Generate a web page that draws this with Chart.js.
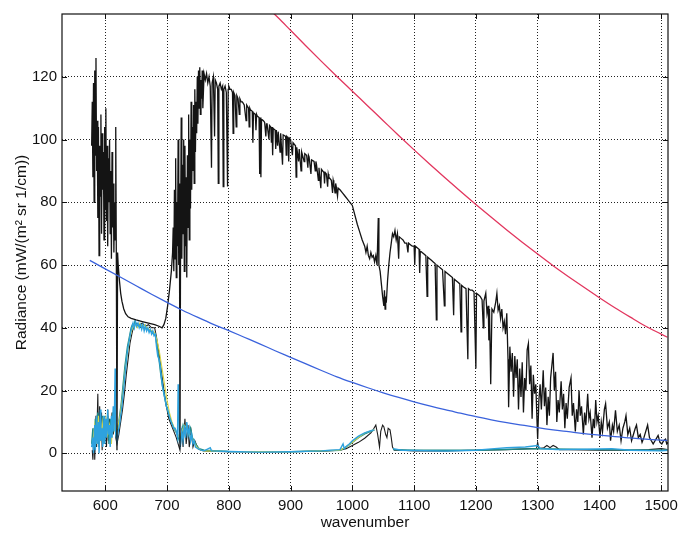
<!DOCTYPE html>
<html>
<head>
<meta charset="utf-8">
<script src="https://cdn.jsdelivr.net/npm/chart.js@4/dist/chart.umd.min.js"></script>
<style>
  html, body { margin: 0; padding: 0; background: #fff; }
  #wrap { width: 684px; height: 533px; }
</style>
</head>
<body>
<div id="wrap"><canvas id="spectrum" width="684" height="533"></canvas></div>
<script>
// axis ticks
const xTicks = [600, 700, 800, 900, 1000, 1100, 1200, 1300, 1400, 1500];
const yTicks = [0, 20, 40, 60, 80, 100, 120];

// clear sky spectrum (black, upper)
const clearWn = [
  578, 579, 580, 581, 582, 583, 584, 585, 586, 587,
  588, 589, 590, 591, 592, 593, 594, 595, 596, 597,
  598, 599, 600, 601, 602, 603, 604, 605, 606, 607,
  608, 609, 610, 611, 612, 613, 614, 615, 616, 617,
  618, 619, 620, 621, 623, 625, 627, 630, 633, 637,
  642, 650, 660, 670, 680, 687, 692, 695, 698, 701,
  704, 707, 709, 710, 711, 712, 713, 714, 715, 716,
  717, 718, 719, 720, 721, 722, 723, 724, 725, 726,
  727, 728, 729, 730, 731, 732, 733, 734, 735, 736,
  737, 738, 739, 740, 741, 742, 743, 744, 745, 746,
  747, 748, 749, 750, 751, 752, 753, 754, 755, 756,
  757, 758, 760, 762, 764, 766, 768, 770, 772, 773,
  775, 777, 778, 780, 782, 783, 784, 786, 788, 790,
  791, 792, 794, 796, 798, 799, 800, 802, 804, 806,
  807, 808, 810, 812, 813, 815, 817, 818, 820, 822,
  825, 828, 829, 832, 833, 834, 835, 838, 839, 840,
  843, 844, 845, 846, 849, 850, 851, 852, 853, 856,
  858, 860, 861, 862, 865, 866, 868, 869, 870, 871,
  872, 875, 876, 877, 879, 880, 883, 884, 887, 888,
  892, 893, 894, 896, 897, 898, 900, 903, 904, 908,
  909, 910, 913, 914, 917, 918, 922, 923, 926, 928,
  929, 930, 933, 934, 938, 940, 941, 942, 945, 946,
  949, 950, 954, 955, 956, 958, 960, 961, 962, 966,
  968, 969, 970, 972, 973, 974, 976, 977, 980, 984,
  988, 992, 996,
  1000, 1004, 1008, 1012, 1016, 1020, 1022, 1024, 1026, 1028,
  1030, 1032, 1034, 1036, 1038, 1040, 1042, 1043, 1045, 1047,
  1049, 1051, 1052, 1053, 1054, 1055, 1057, 1059, 1061, 1063,
  1065, 1067, 1069, 1071, 1073, 1075, 1076, 1079, 1082, 1085,
  1088, 1090, 1091, 1094, 1097, 1100, 1101, 1102, 1105, 1108,
  1109, 1110, 1113, 1116, 1119, 1121, 1122, 1125, 1128, 1131,
  1134, 1136, 1137, 1140, 1143, 1146, 1149, 1150, 1153, 1156,
  1159, 1162, 1164, 1165, 1168, 1171, 1174, 1176, 1177, 1180,
  1184, 1187, 1188, 1191, 1194, 1197, 1200, 1201, 1204, 1207,
  1210, 1212, 1213, 1216, 1218, 1220, 1221, 1222, 1224, 1226,
  1229, 1232, 1234, 1236, 1238, 1240, 1242, 1244, 1246, 1248,
  1250, 1252, 1253, 1255, 1257, 1259, 1261, 1263, 1265, 1267,
  1269, 1271, 1273, 1275, 1277, 1279, 1281, 1283, 1285, 1287,
  1289, 1291, 1293, 1295, 1297, 1299, 1300, 1302, 1304, 1306,
  1309, 1311, 1313, 1315, 1317, 1319, 1321, 1323, 1325, 1327,
  1329, 1331, 1333, 1335, 1338, 1340, 1342, 1344, 1346, 1348,
  1351, 1354, 1356, 1358, 1361, 1363, 1365, 1367, 1369, 1371,
  1374, 1376, 1378, 1381, 1383, 1385, 1388, 1390, 1392, 1394,
  1396, 1398, 1401, 1403, 1405, 1408, 1410, 1413, 1416, 1418,
  1421, 1423, 1426, 1429, 1432, 1435, 1438, 1441, 1443, 1446,
  1449, 1452, 1455, 1458, 1460, 1463, 1466, 1469, 1472, 1475,
  1478, 1481, 1484, 1487, 1490, 1493, 1495, 1498, 1501, 1504,
  1507, 1509, 1511
];
const clearRad = [
  98, 112, 88, 118, 80, 122, 95, 126, 90, 106,
  75, 104, 63, 98, 82, 108, 70, 102, 84, 96,
  68, 104, 78, 110, 74, 98, 66, 94, 80, 100,
  70, 90, 62, 96, 72, 86, 64, 80, 68, 104,
  60, 1, 64, 60, 55, 51, 48.5, 46, 44.5, 43.5,
  43, 42.5, 42, 41.5, 41, 40.5, 40, 41, 43, 47,
  52, 58, 64, 72, 58, 84, 62, 94, 56, 80,
  66, 100, 60, 86, 2, 72, 107, 62, 92, 70,
  100, 58, 98, 66, 88, 56, 95, 72, 108, 68,
  100, 78, 112, 84, 104, 90, 111, 86, 116, 96,
  112, 102, 120, 105, 122, 110, 123, 108, 119, 113,
  122, 110, 121, 119, 121, 118, 120, 117, 91, 118,
  120, 101, 119, 118, 116, 86, 117, 118, 116, 117,
  85, 116, 117, 115, 85, 116, 117, 116, 116, 115,
  102, 115, 114, 104, 114, 113, 108, 113, 112, 112,
  111, 106, 111, 110, 104, 110, 109.5, 109, 99, 108.5,
  108, 103, 108, 107.5, 107, 89, 107, 88, 106.5, 106,
  105.5, 101, 105, 105, 100, 104.5, 104, 99, 104, 95,
  103.5, 103, 97, 103, 98, 102.5, 96, 102, 92, 101.5,
  101, 95, 101, 100.5, 93, 100.5, 100, 95, 99, 98,
  88, 97.5, 93, 97, 90, 96, 93, 95.5, 95, 91,
  95, 94.5, 89, 93.5, 93, 90, 93, 92, 87, 91,
  84.5, 90.5, 89.5, 86, 89.5, 89, 85, 89, 88, 87,
  83, 87, 86, 83, 86, 85, 82, 84.5, 84, 83,
  82, 81, 80,
  79, 76, 73, 70.5, 68, 66, 64, 66, 63, 62,
  64, 62.5, 63, 61, 63, 60, 75, 60, 58, 54,
  50, 47, 52, 46, 50, 48, 55, 60, 64, 67,
  70, 69, 71, 68, 70, 62, 69, 68.5, 68, 67,
  67, 64, 67, 66.5, 66, 66, 60, 66, 65.5, 65,
  57.5, 64.5, 64, 63.5, 63, 50, 62.5, 62, 61.5, 61,
  60.5, 42.5, 60, 59.5, 59, 58.5, 47, 58, 57.5, 57,
  56.5, 56, 44, 55.5, 55, 54.5, 54, 38.7, 53.5, 53,
  52.5, 30, 52.5, 52, 52, 51.5, 27, 51, 50.5, 50,
  49, 40, 48.5, 51, 44.6, 47, 36, 46, 22, 46,
  45, 48, 51, 45.6, 47, 43, 46, 40, 42, 38,
  44.6, 30, 14.7, 34, 26, 32, 18, 31, 24, 30,
  14, 27, 18, 29, 13, 24, 20, 33, 35, 22,
  28, 11, 25, 19, 22, 10, 4.6, 17, 22, 14,
  26.5, 15, 21, 9, 18, 12, 24, 28, 32, 20,
  26, 10, 17, 13, 23, 14, 19, 8, 16, 11,
  21, 24, 12, 16, 7, 14, 10, 20, 12, 15,
  6, 13, 9, 19, 11, 13, 5, 11, 8, 17,
  10, 12, 5, 10, 7, 14, 15.8, 8, 10, 4,
  9, 7, 13.7, 7, 9, 4, 8, 10, 12, 6,
  8, 4, 6, 8, 9, 5, 6, 3.5, 5, 7,
  9, 5, 4, 3, 4, 5, 5.7, 3.5, 3, 4,
  4.5, 3, 3.5
];

// cloudy spectrum (black, lower)
const lowWn = [
  579, 580, 582, 583, 585, 586, 588, 589, 591, 592,
  594, 595, 597, 598, 600, 602, 604, 605, 607, 609,
  611, 613, 615, 617, 619, 622, 625, 628, 631, 634,
  637, 640, 643, 646, 650, 655, 660, 665, 670, 675,
  680, 683, 687, 691, 695, 699, 703, 707, 711, 715,
  718, 721, 724, 726, 729, 731, 734, 736, 739, 742,
  745, 750, 755, 760, 780, 800, 850, 900, 950, 980,
  990, 1000, 1010, 1020, 1030, 1035, 1038, 1041, 1044, 1046,
  1049, 1051, 1054, 1056, 1058, 1061, 1063, 1065, 1068, 1080,
  1100, 1150, 1200, 1250, 1290, 1298, 1300, 1302, 1310, 1315,
  1320, 1325, 1330, 1335, 1350, 1400, 1450, 1480, 1500, 1510
];
const lowRad = [
  1, -2, 8, -2, 12, 2, 19, 3, 15, 4,
  13, 1, 11, 5, 9, 2, 14, 4, 11, 3,
  13, 6, 14, 5, 3, 6, 10, 14, 19, 25,
  30, 35, 38, 40.5, 41.5, 41, 41.5, 40.5, 41, 40,
  40, 37, 32, 26, 20, 15, 11, 9, 7, 5,
  3, 1, 8, 2, 11, 3, 9, 2, 7, 2,
  4, 1.5, 1, 0.8, 0.6, 0.5, 0.5, 0.5, 0.7, 1,
  1.5, 2.5, 3.5, 4.8, 6.5, 8, 9, 6, 2, 7,
  9, 8.5, 6, 5, 8, 7.5, 5, 2, 1, 1,
  0.8, 0.8, 1, 1.2, 1.5, 1.5, 3.5, 1.5, 1.8, 2.5,
  1.8, 2.5, 2, 1.2, 1.2, 1, 1, 1.2, 1.5, 1.2
];

// cloudy retrievals (colour)
const cyanWn = [
  578, 580, 581, 583, 584, 586, 587, 589, 590, 592,
  593, 595, 596, 598, 599, 601, 602, 604, 605, 607,
  608, 610, 611, 613, 614, 615, 616, 617, 619, 621,
  623, 625, 627, 629, 631, 633, 635, 637, 639, 641,
  643, 645, 647, 649, 651, 653, 655, 657, 659, 661,
  663, 665, 667, 669, 671, 673, 675, 677, 679, 681,
  683, 685, 687, 689, 691, 693, 695, 697, 699, 701,
  703, 705, 707, 709, 711, 713, 715, 717, 718, 719,
  720, 722, 724, 726, 728, 730, 732, 734, 736, 738,
  740, 742, 744, 746, 750, 755, 760, 770, 772, 800,
  850, 900, 950, 980, 985, 987, 989, 995, 1000, 1010,
  1020, 1030, 1035, 1038, 1064, 1066, 1080, 1100, 1150, 1200,
  1230, 1250, 1280, 1300, 1305, 1330, 1380, 1420, 1450, 1500,
  1510
];
const cyanRad = [
  2, 5, 0, 9, 1, 12, 3, 10, 0, 14,
  4, 8, 2, 12, 3, 11, 5, 14, 6, 9,
  2, 12, 5, 15, 7, 14, 27, 6, 4, 7,
  9, 12, 15, 19, 23, 27, 31, 34, 36, 38.5,
  40, 41.5, 40, 42, 40.5, 41.5, 40, 41, 39.5, 41,
  39, 40.5, 39, 40, 38.5, 39.5, 38, 39, 37.5, 38,
  34, 31, 30, 28, 24, 21, 19, 17, 15, 14,
  12.5, 11, 10, 9, 8, 8, 7, 5, 22, 20,
  5, 3, 7, 4, 9, 5, 10, 6, 8, 4,
  6, 3, 4, 2, 1.5, 1, 0.8, 1.8, 0.8, 0.6,
  0.4, 0.5, 0.8, 1.2, 3, 1.5, 2, 3, 4, 5.5,
  6.5, 7.2, 7.5, null, null, 1.5, 1, 0.9, 0.7, 1,
  1.5, 1.8, 2, 2.5, 1.5, 1.2, 1.3, 1.5, 1, 0.8,
  1
];

const tealWn = [
  578, 580, 582, 584, 586, 588, 590, 592, 594, 596,
  598, 600, 602, 604, 606, 608, 610, 612, 614, 616,
  618, 620, 622, 624, 626, 628, 630, 632, 634, 636,
  638, 640, 642, 644, 646, 648, 650, 654, 658, 662,
  666, 670, 674, 678, 681, 684, 687, 690, 693, 696,
  699, 702, 705, 708, 711, 714, 717, 720, 723, 726,
  729, 732, 735, 738, 741, 744, 748, 752, 760, 800,
  900, 980, 990, 1000, 1010, 1020, 1030, 1036, 1040, 1066,
  1100, 1200, 1300, 1400, 1510
];
const tealRad = [
  3, 8, 2, 11, 4, 13, 2, 10, 6, 12,
  3, 10, 6, 12, 3, 11, 5, 13, 8, 10,
  6, 8, 10, 13, 16, 20, 24, 28, 31, 34,
  36, 38, 40, 41, 40, 42, 41, 40.5, 41, 40,
  40, 39.5, 39, 38, 38, 34, 30, 25, 21, 18,
  15, 13, 11, 9.5, 8, 7, 6, 4, 6, 9,
  7, 9, 6, 8, 5, 4, 2.5, 1.5, 1, 0.6,
  0.5, 1, 2, 3.5, 5, 6.2, 7, 7.5, null, 1.2,
  1, 1, 1.5, 1.2, 1
];

const yellowWn = [
  580, 583, 586, 589, 592, 595, 598, 601, 604, 607,
  610, 613, 616, 620, 624, 628, 632, 636, 640, 644,
  648, 652, 656, 660, 664, 668, 672, 676, 680, 684,
  688, 692, 696, 700, 704, 708, 712, 716, 720, 724,
  728, 732, 736, 740, 744, 748, 755, 760, 800, 900,
  980, 990, 1000, 1010, 1020, 1030, 1035
];
const yellowRad = [
  4, 9, 3, 12, 5, 10, 4, 11, 6, 9,
  3, 12, 7, 8, 12, 18, 26, 32, 37, 40,
  41, 40, 41.5, 40, 41, 40, 39.5, 39, 38.5, 36,
  32, 27, 22, 17, 13, 10, 8, 6.5, 5, 7,
  9, 8, 6, 5, 3.5, 2, 1, 0.8, 0.6, 0.5,
  1, 2, 3.5, 5, 6.5, 7.2, 7.5
];

// blackbody reference curves
const warmWn = [860, 880, 900, 925, 950, 975, 1000, 1025, 1050, 1075,
  1100, 1125, 1150, 1175, 1200, 1225, 1250, 1275, 1300, 1325,
  1350, 1375, 1400, 1425, 1450, 1475, 1500, 1510];
const warmRad = [142.5, 138.8, 134.8, 129.8, 124.9, 120.1, 115.4, 110.7, 106, 101.3,
  96.7, 92.2, 87.8, 83.5, 79.3, 75.2, 71.2, 67.3, 63.5, 59.8,
  56.3, 52.9, 49.6, 46.4, 43.4, 40.5, 38, 37];

const coldWn = [575, 600, 625, 650, 675, 700, 725, 750, 775, 800,
  825, 850, 875, 900, 925, 950, 975, 1000, 1025, 1050,
  1075, 1100, 1125, 1150, 1175, 1200, 1225, 1250, 1275, 1300,
  1325, 1350, 1375, 1400, 1425, 1450, 1475, 1500, 1510];
const coldRad = [61.5, 58.8, 56.1, 53.4, 50.7, 48.1, 45.6, 43.3, 41.1, 39.1,
  37, 34.9, 32.7, 30.6, 28.5, 26.4, 24.4, 22.6, 20.9, 19.3,
  17.8, 16.4, 15.1, 13.9, 12.8, 11.7, 10.7, 9.8, 9, 8.2,
  7.5, 6.9, 6.3, 5.8, 5.3, 4.9, 4.5, 4.2, 4.1];

(function () {
  const FONT = '"Liberation Sans", Arial, Helvetica, sans-serif';
  const pts = (xs, ys) => xs.map((x, i) => ({ x: x, y: ys[i] }));
  const line = (label, xs, ys, color, width, smooth) => ({
    label,
    data: pts(xs, ys),
    borderColor: color,
    borderWidth: width,
    pointRadius: 0,
    tension: smooth ? 0.4 : 0,
    cubicInterpolationMode: smooth ? "monotone" : "default",
    fill: false,
    spanGaps: false
  });

  // box round the plot plus short inward ticks, matlab style
  const frame = {
    id: "frame",
    afterDraw(chart) {
      const { ctx, chartArea: a, scales } = chart;
      ctx.save();
      ctx.strokeStyle = "#111";
      ctx.lineWidth = 1.2;
      ctx.strokeRect(a.left, a.top, a.right - a.left, a.bottom - a.top);
      ctx.lineWidth = 1;
      ctx.beginPath();
      xTicks.forEach((v) => {
        const p = Math.round(scales.x.getPixelForValue(v)) + 0.5;
        ctx.moveTo(p, a.bottom); ctx.lineTo(p, a.bottom - 5);
        ctx.moveTo(p, a.top); ctx.lineTo(p, a.top + 5);
      });
      yTicks.forEach((v) => {
        const p = Math.round(scales.y.getPixelForValue(v)) + 0.5;
        ctx.moveTo(a.left, p); ctx.lineTo(a.left + 5, p);
        ctx.moveTo(a.right, p); ctx.lineTo(a.right - 5, p);
      });
      ctx.stroke();
      ctx.restore();
    }
  };

  new Chart(document.getElementById("spectrum"), {
    type: "line",
    data: {
      datasets: [
        line("warm", warmWn, warmRad, "#e2365e", 1.3, true),
        line("cold", coldWn, coldRad, "#3a62dc", 1.3, true),
        line("clear", clearWn, clearRad, "#141414", 1.3),
        line("cyan", cyanWn, cyanRad, "#2ea2de", 1.4),
        line("yellow", yellowWn, yellowRad, "#d9d64a", 1.1),
        line("teal", tealWn, tealRad, "#1f8c86", 1.4),
        line("cloudy", lowWn, lowRad, "#1c1c1c", 1.1)
      ]
    },
    options: {
      responsive: false,
      animation: false,
      layout: { padding: { top: 10, right: 10, bottom: 0, left: 0 } },
      plugins: { legend: { display: false }, tooltip: { enabled: false } },
      scales: {
        x: {
          type: "linear",
          min: 530,
          max: 1511,
          afterBuildTicks: (s) => { s.ticks = xTicks.map((v) => ({ value: v })); },
          afterFit: (s) => { s.height = 42; },
          grid: { color: "#222", lineWidth: 1, drawTicks: false },
          border: { display: false, dash: [1, 2] },
          ticks: { padding: 6, color: "#111", font: { family: FONT, size: 15 }, maxRotation: 0, callback: (v) => String(v) },
          title: { display: true, text: "wavenumber", color: "#111", font: { family: FONT, size: 15.5 }, padding: { top: 0, bottom: 1 } }
        },
        y: {
          min: -12,
          max: 140,
          afterBuildTicks: (s) => { s.ticks = yTicks.map((v) => ({ value: v })); },
          afterFit: (s) => { s.width = 62; },
          grid: { color: "#222", lineWidth: 1, drawTicks: false },
          border: { display: false, dash: [1, 2] },
          ticks: { padding: 5, color: "#111", font: { family: FONT, size: 15 }, callback: (v) => String(v) },
          title: { display: true, text: "Radiance (mW/(m² sr 1/cm))", color: "#111", font: { family: FONT, size: 15.5 }, padding: { top: 12, bottom: 0 } }
        }
      }
    },
    plugins: [frame]
  });
})();
</script>
</body>
</html>
